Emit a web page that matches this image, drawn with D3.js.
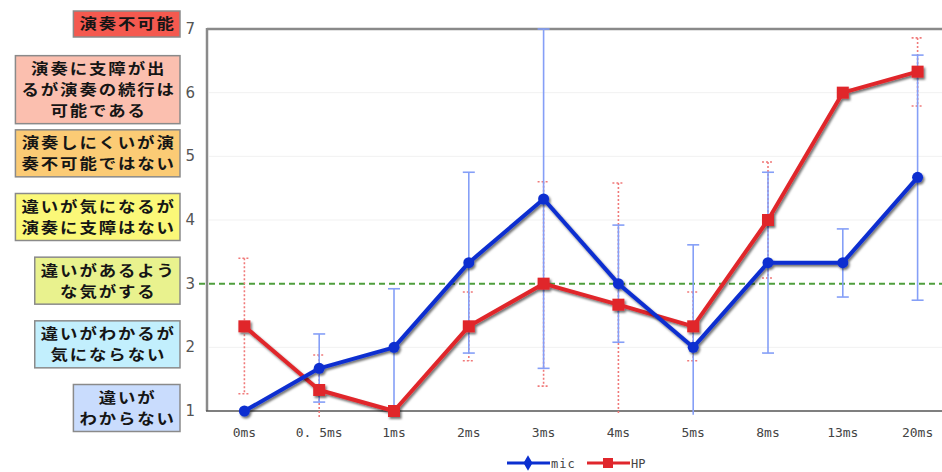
<!DOCTYPE html>
<html>
<head>
<meta charset="utf-8">
<script src="https://cdn.jsdelivr.net/npm/d3@7"></script>
<style>
  body { margin: 0; background: #fff; }
  svg { display: block; }
</style>
</head>
<body>
<div class="chart"></div>
<script>
// delay conditions on the x axis
const categories = ['0ms', '0. 5ms', '1ms', '2ms', '3ms', '4ms', '5ms', '8ms', '13ms', '20ms'];
// mean score + error bar ends (null = no bar drawn)
const micMean = [1, 1.67, 2, 3.33, 4.33, 3, 2, 3.33, 3.33, 4.67];
const micHi = [null, 2.21, 2.92, 4.75, 7.0, 3.92, 3.61, 4.75, 3.86, 6.59];
const micLo = [null, 1.14, 1.0, 1.91, 1.67, 2.08, 0.94, 1.91, 2.79, 2.74];
const hpMean = [2.33, 1.33, 1, 2.33, 3, 2.67, 2.33, 4, 6, 6.33];
const hpHi = [3.40, 1.88, null, 2.87, 4.6, 4.58, 2.87, 4.91, null, 6.86];
const hpLo = [1.27, 0.9, null, 1.79, 1.39, 0.95, 1.79, 3.09, null, 5.79];
// y tick values and the rating labels next to them
const yTicks = [1, 2, 3, 4, 5, 6, 7];
const levelLabels = [
  ['違いが', 'わからない'],
  ['違いがわかるが', '気にならない'],
  ['違いがあるよう', 'な気がする'],
  ['違いが気になるが', '演奏に支障はない'],
  ['演奏しにくいが演', '奏不可能ではない'],
  ['演奏に支障が出', 'るが演奏の続行は', '可能である'],
  ['演奏不可能']
];
const levelColors = ['#c9dcfd', '#c2effd', '#e9f28e', '#fbf878', '#fbcb75', '#fbbfaf', '#f4594f'];
const threshold = 3;

const width = 942, height = 472;
const margin = { top: 29, right: 0, bottom: 61, left: 207 };

const svg = d3.select('.chart').append('svg')
  .attr('width', width)
  .attr('height', height);

// drop shadow for the two data lines
const defs = svg.append('defs');
defs.append('filter').attr('id', 'shadow')
  .attr('x', '-10%').attr('y', '-10%').attr('width', '120%').attr('height', '130%')
  .append('feDropShadow')
  .attr('dx', 1.5).attr('dy', 2).attr('stdDeviation', 1)
  .attr('flood-color', '#000').attr('flood-opacity', 0.55);

const x = d3.scaleBand().domain(categories).range([207, 955]).padding(0);
const cx = d => x(d) + x.bandwidth() / 2;
const y = d3.scaleLinear().domain([1, 7]).range([height - margin.bottom, margin.top]);

// faint grid
svg.append('g').selectAll('line')
  .data(yTicks.filter(v => v !== 1 && v !== 7 && v !== threshold))
  .enter().append('line')
  .attr('x1', 209).attr('x2', width)
  .attr('y1', d => y(d)).attr('y2', d => y(d))
  .attr('stroke', '#f1f1f1').attr('stroke-width', 1);

// threshold line at 3
svg.append('line')
  .attr('x1', 199).attr('x2', width)
  .attr('y1', y(threshold)).attr('y2', y(threshold))
  .attr('stroke', '#4f9f3e').attr('stroke-width', 2)
  .attr('stroke-dasharray', '6,4');

// frame: top + left gray, bottom darker
svg.append('line').attr('x1', 207).attr('x2', width).attr('y1', y(7)).attr('y2', y(7))
  .attr('stroke', '#8a8a8a').attr('stroke-width', 2.5);
svg.append('line').attr('x1', 207).attr('x2', 207).attr('y1', y(7) - 1).attr('y2', y(1))
  .attr('stroke', '#8a8a8a').attr('stroke-width', 2.5);
svg.append('line').attr('x1', 206).attr('x2', width).attr('y1', y(1)).attr('y2', y(1))
  .attr('stroke', '#555').attr('stroke-width', 1.5);

// y tick numbers
svg.append('g').selectAll('text')
  .data(yTicks).enter().append('text')
  .attr('x', 195).attr('y', d => y(d) + 5)
  .attr('text-anchor', 'end')
  .style('font-family', '"DejaVu Sans", sans-serif')
  .style('font-size', '15px')
  .style('fill', '#555')
  .text(d => d);

// x labels
svg.append('g').selectAll('text')
  .data(categories).enter().append('text')
  .attr('x', d => cx(d)).attr('y', 437)
  .attr('text-anchor', 'middle')
  .style('font-family', '"DejaVu Sans Mono", monospace')
  .style('font-size', '13px')
  .style('fill', '#444')
  .text(d => d);

// rating boxes on the left (glyphs stretched a little, like the original)
const lineH = 21, stretch = 1.2;
const boxes = svg.append('g');
levelLabels.forEach((lines, i) => {
  const v = yTicks[i];
  const h = lines.length * lineH + 5;
  let cy = y(v) - 3;
  if (v === 7) cy = 24;
  const g = boxes.append('g');
  const rect = g.append('rect');
  const txt = g.append('text')
    .attr('text-anchor', 'middle')
    .style('font-family', '"Noto Sans CJK JP", sans-serif')
    .style('font-weight', 'bold')
    .style('font-size', '14.5px')
    .style('letter-spacing', '1.6px')
    .style('fill', '#151515');
  lines.forEach((l, j) => {
    txt.append('tspan').attr('x', 0.8)
      .attr('y', cy - h / 2 + 3 + lineH * j + 15.5)
      .text(l);
  });
  const tw = txt.node().getBBox().width * stretch;
  const w = tw + 10;
  const right = 180;
  txt.attr('transform', `translate(${right - w / 2},0) scale(${stretch},1)`);
  rect.attr('x', right - w).attr('y', cy - h / 2)
    .attr('width', w).attr('height', h)
    .attr('fill', levelColors[i])
    .attr('stroke', '#8a8a8a').attr('stroke-width', 1.5);
});

// error bars
function errorBars(hi, lo, color, dash) {
  const g = svg.append('g');
  categories.forEach((c, i) => {
    if (hi[i] == null) return;
    const xx = cx(c);
    g.append('line')
      .attr('x1', xx).attr('x2', xx)
      .attr('y1', y(hi[i])).attr('y2', y(lo[i]))
      .attr('stroke', color).attr('stroke-width', 1.6)
      .attr('stroke-dasharray', dash);
    [hi[i], lo[i]].forEach(v => {
      if (v < 1) return;
      g.append('line')
        .attr('x1', xx - 6).attr('x2', xx + 6)
        .attr('y1', y(v)).attr('y2', y(v))
        .attr('stroke', color).attr('stroke-width', 1.6)
        .attr('stroke-dasharray', dash);
    });
  });
}
errorBars(hpHi, hpLo, '#f07a7a', '2,2');
errorBars(micHi, micLo, '#859ff7', null);

const line = d3.line().x((d, i) => cx(categories[i])).y(d => y(d));

// HP series (red squares)
const hp = svg.append('g').attr('filter', 'url(#shadow)');
hp.append('path').datum(hpMean)
  .attr('fill', 'none').attr('stroke', '#e0262c').attr('stroke-width', 4)
  .attr('stroke-linejoin', 'round')
  .attr('d', line);
hp.selectAll('rect').data(hpMean).enter().append('rect')
  .attr('x', (d, i) => cx(categories[i]) - 6)
  .attr('y', d => y(d) - 6)
  .attr('width', 12).attr('height', 12)
  .attr('fill', '#e0262c');

// mic series (blue dots)
const mic = svg.append('g').attr('filter', 'url(#shadow)');
mic.append('path').datum(micMean)
  .attr('fill', 'none').attr('stroke', '#0b2fd0').attr('stroke-width', 4)
  .attr('stroke-linejoin', 'round')
  .attr('d', line);
mic.selectAll('path.m').data(micMean).enter().append('path')
  .attr('class', 'm')
  .attr('transform', (d, i) => `translate(${cx(categories[i])},${y(d)})`)
  .attr('d', d3.symbol(d3.symbolCircle, 95))
  .attr('fill', '#0b2fd0');

// legend
const legend = svg.append('g').attr('transform', 'translate(0,463)');
legend.append('line').attr('x1', 507).attr('x2', 550).attr('y1', 0).attr('y2', 0)
  .attr('stroke', '#0b2fd0').attr('stroke-width', 3);
legend.append('path').attr('transform', 'translate(528,0)')
  .attr('d', d3.symbol(d3.symbolDiamond, 70)).attr('fill', '#0b2fd0');
legend.append('text').attr('x', 551).attr('y', 5)
  .style('font-family', '"DejaVu Sans Mono", monospace').style('font-size', '12px')
  .style('letter-spacing', '1px').style('fill', '#444').text('mic');
legend.append('line').attr('x1', 587).attr('x2', 630).attr('y1', 0).attr('y2', 0)
  .attr('stroke', '#e0262c').attr('stroke-width', 3);
legend.append('rect').attr('x', 603).attr('y', -5).attr('width', 10).attr('height', 10)
  .attr('fill', '#e0262c');
legend.append('text').attr('x', 631).attr('y', 5)
  .style('font-family', '"DejaVu Sans Mono", monospace').style('font-size', '12px')
  .style('fill', '#444').text('HP');
</script>
</body>
</html>
